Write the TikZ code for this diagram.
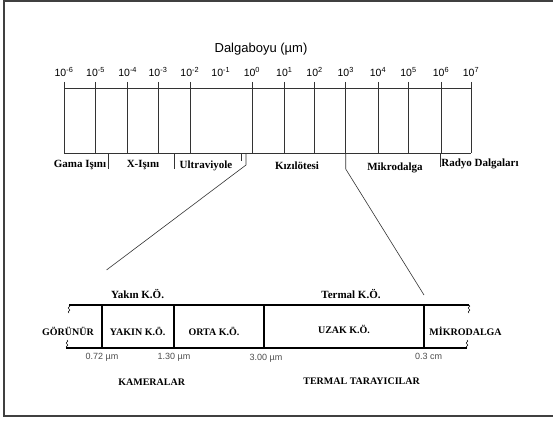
\documentclass[tikz,border=0pt]{standalone}
\usepackage{fontspec}
\setmainfont{Liberation Serif}
\setsansfont{Liberation Sans}
\usetikzlibrary{positioning}

\begin{document}
\begin{tikzpicture}[x=1pt,y=-1pt,
scalelbl/.style={font=\sffamily\fontsize{10.5}{12}\selectfont, inner sep=0pt},
bandlbl/.style={font=\bfseries\fontsize{11}{13}\selectfont, inner sep=0pt},
caplbl/.style={font=\bfseries\fontsize{10}{12}\selectfont, inner sep=0pt},
sizelbl/.style={font=\sffamily\fontsize{9}{10}\selectfont, text=black!70, inner sep=0pt},
thin line/.style={line width=0.6pt, black!80},
thick line/.style={line width=1.3pt}]

\useasboundingbox (0,0) rectangle (553,422);
\draw[line width=1.5pt, black!75] (553,1)--(4,1)--(4,416)--(553,416);

% dalgaboyu skalasi
\node[font=\sffamily\fontsize{13}{15}\selectfont] (baslik) at (261,49) {Dalgaboyu (µm)};
\foreach \x/\e in {64/-6, 95.6/-5, 127.7/-4, 158/-3, 189.8/-2, 220.8/-1, 251.9/0, 284.3/1, 314.6/2, 345.7/3, 378/4, 408.5/5, 441/6, 471/7}
    \node[scalelbl] (us\e) at (\x,72) {10\textsuperscript{\e}};
\foreach \x in {64, 95.6, 127.7, 158, 189.8, 251.9, 284.3, 314.6, 345.7, 378, 408.5, 441, 471}
    \draw[thin line] (\x,82)--(\x,153);
\draw[thin line] (64,88)--(471,88);
\draw[thin line] (64,153)--(471,153);
\foreach \x/\y in {108.6/169, 174/169, 241/161, 440/167}
    \draw[thin line] (\x,153)--(\x,\y);

% bolgeler
\node[bandlbl] (gama) at (80,165) {Gama Işını};
\node[bandlbl] (xisini) at (143,165) {X-Işını};
\node[bandlbl] (ultra) at (206,166) {Ultraviyole};
\node[bandlbl] (kizil) at (297,166) {Kızılötesi};
\node[bandlbl] (mikro) at (395,168) {Mikrodalga};
\node[bandlbl] (radyo) at (480,164) {Radyo Dalgaları};

% buyutme cizgileri
\coordinate (solust) at (246,153);
\coordinate (solkose) at (246,165);
\coordinate (solalt) at (106.5,270);
\coordinate (sagust) at (345.7,153);
\coordinate (sagkose) at (345.7,169);
\coordinate (sagalt) at (424,295);
\draw[thin line] (solust)--(solkose)--(solalt);
\draw[thin line] (sagust)--(sagkose)--(sagalt);

% kizilotesi detayi
\node[bandlbl] (yakinust) at (137.6,293.5) {Yakın K.Ö.};
\node[bandlbl] (termalust) at (351,294) {Termal K.Ö.};
\draw[thick line] (69,305)--(469,305);
\draw[thick line] (66,348)--(467,348);
\foreach \x in {102, 174, 264, 424}
    \draw[thick line] (\x,305)--(\x,348);
\foreach \x/\y in {69/305, 67/340, 469/305, 467/340}
    \draw[line width=0.5pt] (\x,\y) .. controls (\x+3,\y+1.5) and (\x-3,\y+2.5) .. (\x,\y+4) .. controls (\x+3,\y+5.5) and (\x-3,\y+6.5) .. (\x,\y+8);

\node[caplbl] (gorunur) at (68,331.5) {GÖRÜNÜR};
\node[caplbl] (yakin) at (137.6,331.5) {YAKIN K.Ö.};
\node[caplbl] (orta) at (214,331.5) {ORTA K.Ö.};
\node[caplbl] (uzak) at (344,329.5) {UZAK K.Ö.};
\node[caplbl] (mikrodalga) at (465.6,331.5) {MİKRODALGA};

\node[sizelbl] (s072) at (102,357) {0.72 µm};
\node[sizelbl] (s130) at (174,357) {1.30 µm};
\node[sizelbl] (s300) at (266,358) {3.00 µm};
\node[sizelbl] (s03) at (428.6,356) {0.3 cm};

\node[caplbl] (kamera) at (151.7,381.7) {KAMERALAR};
\node[caplbl] (tarayici) at (361.6,381) {TERMAL TARAYICILAR};

\end{tikzpicture}
\end{document}
